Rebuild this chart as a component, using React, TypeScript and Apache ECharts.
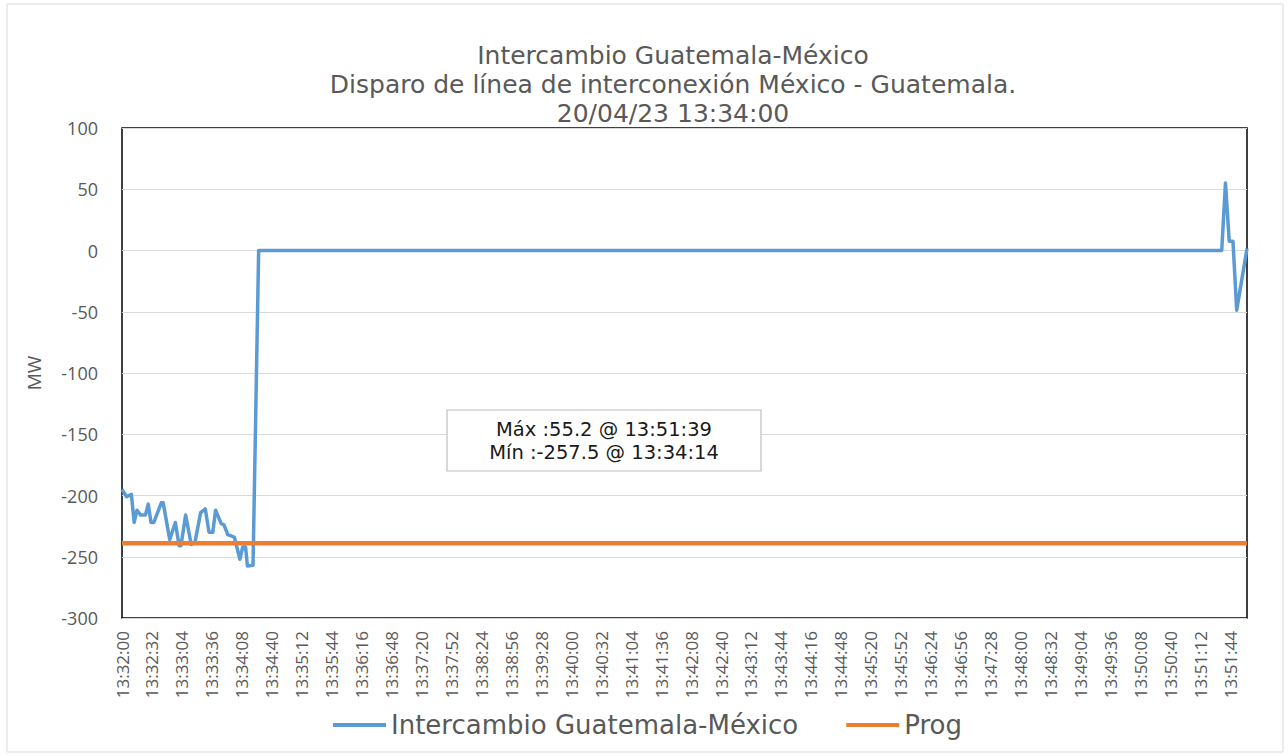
import React, { useEffect, useRef } from "react";
import * as echarts from "echarts";

// seconds after 13:32:00
const exchangeTimes = [
  0, 5, 10, 13, 16, 20, 25, 28, 31, 34, 42, 44, 51, 57, 61, 63, 68, 74, 78, 84, 89, 93, 97, 100,
  106, 109, 113, 120, 126, 129, 132, 134, 140, 146, 1175, 1179, 1183, 1187, 1191, 1202,
];
const exchangeValues = [
  -195, -201, -199, -222, -212, -216, -216, -207, -222, -222, -206, -206, -236, -222, -241, -241,
  -216, -240, -238, -214, -211, -230, -230, -212, -223, -224, -232, -234, -252, -242, -242, -257.5,
  -257, 0, 0, 55.2, 7.6, 7.6, -48.7, 1.6,
];
const progTimes = [0, 1202];
const progValues = [-239, -239];

const titleLines = [
  "Intercambio Guatemala-México",
  "Disparo de línea de interconexión México - Guatemala.",
  "20/04/23 13:34:00",
];
const seriesNames = ["Intercambio Guatemala-México", "Prog"];
const yTicks = { min: -300, max: 100, interval: 50 };
const xTicks = { min: 0, max: 1202, interval: 32 };
const baseSeconds = 13 * 3600 + 32 * 60;

const pad = (n: number) => (n < 10 ? "0" + n : "" + n);
const fmtTime = (s: number) => {
  const t = baseSeconds + Math.round(s);
  return `${Math.floor(t / 3600)}:${pad(Math.floor((t % 3600) / 60))}:${pad(t % 60)}`;
};

export default function App() {
  const ref = useRef<HTMLDivElement>(null);
  useEffect(() => {
    if (!ref.current) return;
    const chart = echarts.init(ref.current, undefined, { renderer: "svg" });
    const font = "Open Sans";
    const wide = "DejaVu Sans";
    let maxI = 0;
    let minI = 0;
    exchangeValues.forEach((v, i) => {
      if (v > exchangeValues[maxI]) maxI = i;
      if (v < exchangeValues[minI]) minI = i;
    });
    const maxText = `Máx :${exchangeValues[maxI]} @ ${fmtTime(exchangeTimes[maxI])}`;
    const minText = `Mín :${exchangeValues[minI]} @ ${fmtTime(exchangeTimes[minI])}`;
    chart.setOption({
      animation: false,
      backgroundColor: "#ffffff",
      textStyle: { fontFamily: font },
      grid: {
        left: 122,
        right: 41,
        top: 128,
        bottom: 138,
        show: true,
        borderColor: "#000000",
        borderWidth: 1.5,
        backgroundColor: "transparent",
      },
      legend: {
        bottom: 18,
        left: 333,
        padding: 0,
        itemWidth: 53,
        itemHeight: 4,
        itemGap: 48,
        icon: "rect",
        textStyle: { fontFamily: wide, fontSize: 26, color: "#595959" },
        data: seriesNames,
      },
      xAxis: {
        type: "value",
        min: xTicks.min,
        max: xTicks.max,
        interval: xTicks.interval,
        axisLine: { show: false },
        axisTick: { show: false },
        splitLine: { show: false },
        axisLabel: {
          rotate: 90,
          margin: 13,
          fontSize: 17,
          color: "#595959",
          fontFamily: font,
          showMaxLabel: false,
          formatter: (v: number) => fmtTime(v),
        },
      },
      yAxis: {
        type: "value",
        min: yTicks.min,
        max: yTicks.max,
        interval: yTicks.interval,
        name: "MW",
        nameLocation: "middle",
        nameGap: 79,
        nameRotate: 90,
        nameTextStyle: { fontFamily: font, fontSize: 19, color: "#595959" },
        axisLine: { show: false },
        axisTick: { show: false },
        splitLine: { lineStyle: { color: "#d9d9d9", width: 1 } },
        axisLabel: { fontSize: 18, color: "#595959", margin: 24, fontFamily: font },
      },
      series: [
        {
          name: seriesNames[0],
          type: "line",
          showSymbol: false,
          symbol: "none",
          data: exchangeTimes.map((t, i) => [t, exchangeValues[i]]),
          lineStyle: { color: "#5B9BD5", width: 3.5, join: "round" },
          itemStyle: { color: "#5B9BD5" },
        },
        {
          name: seriesNames[1],
          type: "line",
          showSymbol: false,
          symbol: "none",
          data: progTimes.map((t, i) => [t, progValues[i]]),
          lineStyle: { color: "#ED7D31", width: 4.5 },
          itemStyle: { color: "#ED7D31" },
        },
      ],
      graphic: [
        {
          type: "rect",
          shape: { x: 7, y: 4, width: 1276, height: 748 },
          style: { fill: "none", stroke: "#d9d9d9", lineWidth: 1 },
          silent: true,
        },
        {
          type: "text",
          x: 673,
          y: 40.5,
          style: {
            text: titleLines.join("\n"),
            fontFamily: wide,
            fontSize: 25,
            lineHeight: 29.3,
            fill: "#595959",
            align: "center",
            verticalAlign: "top",
          },
        },
        {
          type: "rect",
          shape: { x: 447, y: 410, width: 314, height: 61 },
          style: { fill: "#ffffff", stroke: "#bfbfbf", lineWidth: 1.2 },
          z: 100,
        },
        {
          type: "text",
          x: 604,
          y: 441,
          z: 101,
          style: {
            text: maxText + "\n" + minText,
            fontFamily: wide,
            fontSize: 19.5,
            lineHeight: 23,
            fill: "#1a1a1a",
            align: "center",
            verticalAlign: "middle",
          },
        },
      ],
    });
    return () => chart.dispose();
  }, []);
  return <div ref={ref} style={{ position: "absolute", left: 0, top: 0, width: 1288, height: 756 }} />;
}
